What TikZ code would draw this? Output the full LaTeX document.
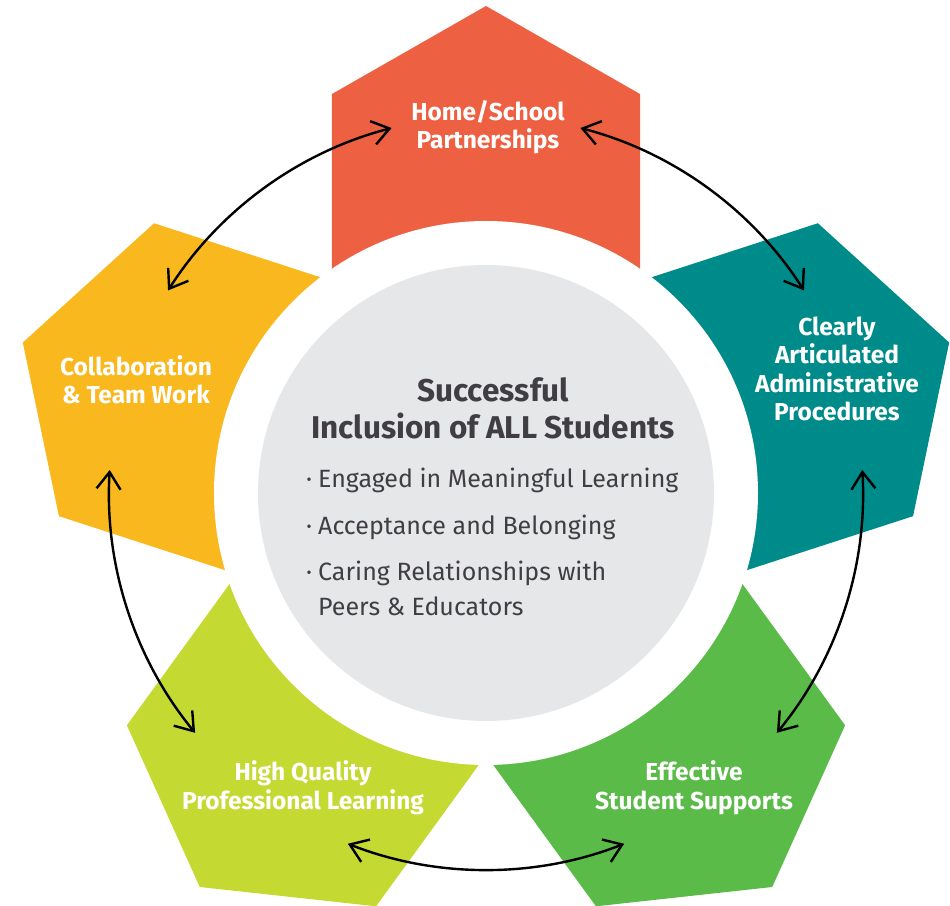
\documentclass[tikz,border=0pt]{standalone}
\usepackage{fontspec}
\setmainfont{Fira Sans}
\usetikzlibrary{arrows.meta}
\tikzset{
  petal label/.style={text=white,inner sep=0pt,align=center,font=\bfseries\fontsize{24.5}{28.5}\selectfont},
  hub title/.style={text=hubtext,inner sep=0pt,align=center,font=\bfseries\fontsize{31.5}{37}\selectfont},
  hub item/.style={text=hubtext,inner sep=0pt,anchor=base west,font=\fontsize{25}{30}\selectfont},
  twoway/.style={line width=2.4pt,line cap=round,looseness=0.88,
    {Straight Barb[length=17pt,width=24pt]}-{Straight Barb[length=17pt,width=24pt]}}
}
\definecolor{homered}{RGB}{238,96,66}
\definecolor{procteal}{RGB}{0,139,139}
\definecolor{supportgreen}{RGB}{90,187,72}
\definecolor{learnlime}{RGB}{196,218,50}
\definecolor{teamyellow}{RGB}{248,184,30}
\definecolor{hubgray}{RGB}{230,231,232}
\definecolor{hubtext}{RGB}{64,62,66}

\begin{document}
\begin{tikzpicture}[x=1pt,y=1pt]

\useasboundingbox (-486,-412) rectangle (464,493);

% five house shaped petals, clockwise from the top
\fill[homered] (0,0) -- (-154,150) -- (-154,399) -- (0,487) -- (154,399) -- (154,150) -- cycle;
\fill[procteal,rotate=-72] (0,0) -- (-154,150) -- (-154,399) -- (0,487) -- (154,399) -- (154,150) -- cycle;
\fill[supportgreen,rotate=-144] (0,0) -- (-154,150) -- (-154,399) -- (0,487) -- (154,399) -- (154,150) -- cycle;
\fill[learnlime,rotate=-216] (0,0) -- (-154,150) -- (-154,399) -- (0,487) -- (154,399) -- (154,150) -- cycle;
\fill[teamyellow,rotate=-288] (0,0) -- (-154,150) -- (-154,399) -- (0,487) -- (154,399) -- (154,150) -- cycle;

% white ring and grey hub
\fill[white] (0,0) circle (272);
\fill[hubgray] (0,0) circle (228);

\node[petal label] (home) at (2,366) {Home/School\\Partnerships};
\node[petal label] (admin) at (351,124) {Clearly\\Articulated\\Administrative\\Procedures};
\node[petal label] (support) at (208,-295) {Effective\\Student Supports};
\node[petal label] (learn) at (-183,-295) {High Quality\\Professional Learning};
\node[petal label] (team) at (-350,113) {Collaboration\\\& Team Work};

\node[hub title] (hub) at (7,85) {Successful\\Inclusion of ALL Students};
\node[hub item] (engaged) at (-168,6) {\llap{·\hspace{6pt}}Engaged in Meaningful Learning};
\node[hub item] (belong) at (-168,-41) {\llap{·\hspace{6pt}}Acceptance and Belonging};
\node[hub item] (caring) at (-168,-87) {\llap{·\hspace{6pt}}Caring Relationships with};
\node[hub item] (peers) at (-168,-122) {Peers \& Educators};

% arrow ends on a circle round the hub
\coordinate (homecw) at (75.5:377);
\coordinate (homeccw) at (104.5:377);
\coordinate (admincw) at (3.5:377);
\coordinate (adminccw) at (32.5:377);
\coordinate (supportcw) at (-68.5:377);
\coordinate (supportccw) at (-39.5:377);
\coordinate (learncw) at (-140.5:377);
\coordinate (learnccw) at (-111.5:377);
\coordinate (teamcw) at (147.5:377);
\coordinate (teamccw) at (176.5:377);

\draw[twoway] (homecw) to[bend left=21.5] (adminccw);
\draw[twoway] (admincw) to[bend left=21.5] (supportccw);
\draw[twoway] (supportcw) to[bend left=21.5] (learnccw);
\draw[twoway] (learncw) to[bend left=21.5] (teamccw);
\draw[twoway] (teamcw) to[bend left=21.5] (homeccw);

\end{tikzpicture}
\end{document}
